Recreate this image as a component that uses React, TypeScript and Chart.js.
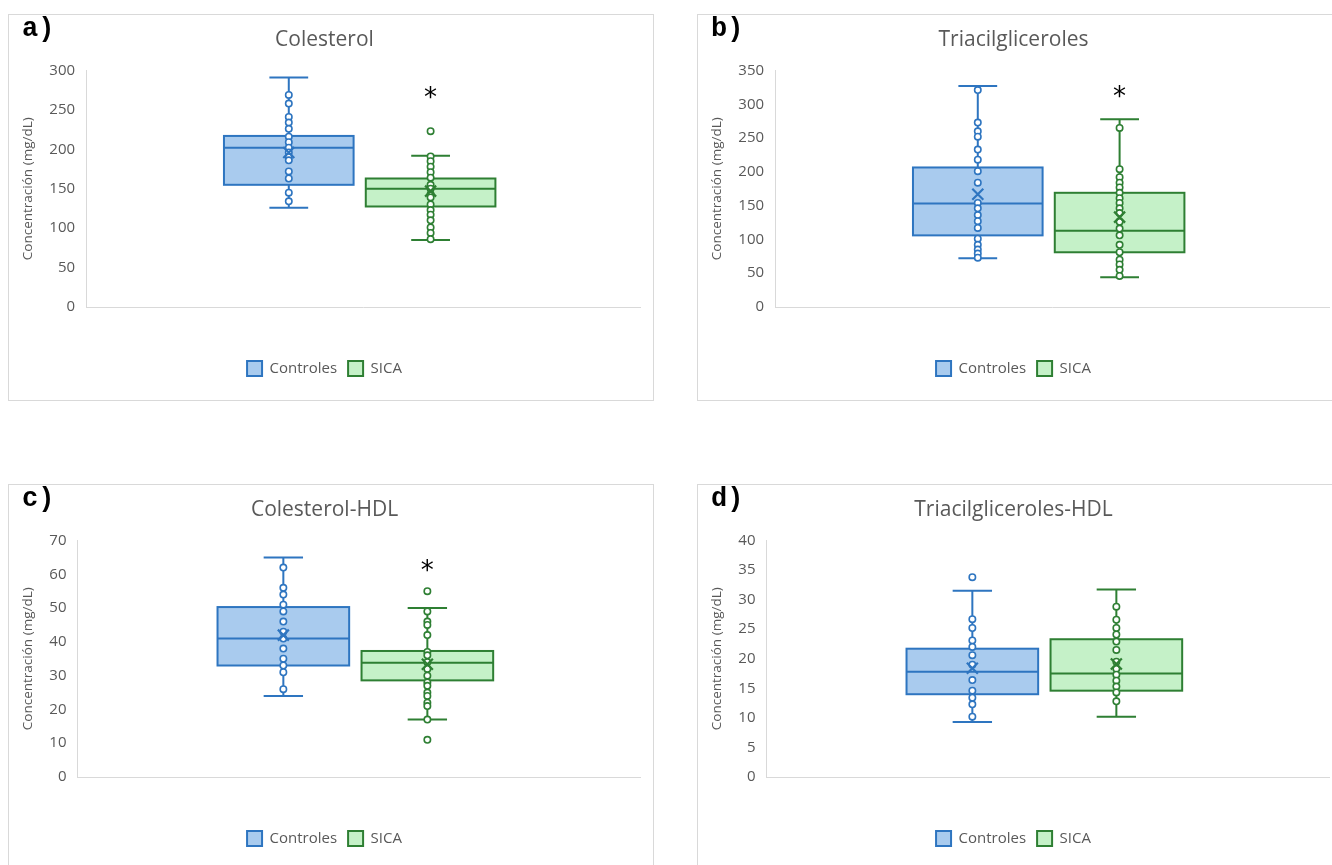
import React, { useEffect, useRef } from "react";
import { Chart, registerables } from "chart.js";

Chart.register(...registerables);

const FONT = '"Open Sans", "Noto Sans", sans-serif';
const TEXT_GRAY = "#595959";
const AXIS_GRAY = "#D9D9D9";

const SERIES_NAMES = ["Controles", "SICA"];
const SERIES_LINE = ["#2E75C0", "#2E7F33"];
const SERIES_FILL = ["#A9CBEE", "#C5F1C8"];

// Box stats arrays: [whiskerLow, Q1, median, Q3, whiskerHigh]
// a) Colesterol
const colCtrlPoints = [269, 258, 241, 234, 226, 216, 209, 202, 196, 190, 186, 172, 163, 145, 134];
const colCtrlBox = [126, 155, 202, 217, 291];
const colCtrlMean = 196;
const colSicaPoints = [223, 191, 185, 178, 171, 164, 155, 150, 143, 139, 130, 123, 117, 110, 101, 94, 86];
const colSicaBox = [85, 127.5, 150, 163, 192];
const colSicaMean = 147;

// b) Triacilgliceroles
const tgCtrlPoints = [321, 273, 260, 252, 233, 218, 201, 184, 154, 146, 136, 127, 117, 101, 92, 85, 79, 73];
const tgCtrlBox = [72, 106, 153, 206.5, 327];
const tgCtrlMean = 167;
const tgSicaPoints = [265, 204, 192, 184, 177, 169, 161, 154, 146, 139, 126, 116, 106, 92, 81, 70, 63, 55, 46];
const tgSicaBox = [44, 81, 113, 169, 278];
const tgSicaMean = 133;

// c) Colesterol-HDL
const hdlCtrlPoints = [62, 56, 54, 51, 49, 46, 43, 41, 38, 35, 33, 31, 26];
const hdlCtrlBox = [24, 33, 41, 50.3, 65];
const hdlCtrlMean = 42;
const hdlSicaPoints = [55, 49, 46, 45, 42, 37, 36, 34, 32, 30, 28, 27, 25, 24, 22, 21, 17, 11];
const hdlSicaBox = [17, 28.6, 33.8, 37.3, 50];
const hdlSicaMean = 33.4;

// d) Triacilgliceroles-HDL
const tghCtrlPoints = [33.8, 26.7, 25.2, 23.1, 22, 20.6, 19, 16.4, 14.6, 13.4, 12.3, 10.2];
const tghCtrlBox = [9.3, 14, 17.8, 21.7, 31.5];
const tghCtrlMean = 18.4;
const tghSicaPoints = [28.8, 26.6, 25.2, 24.1, 22.9, 21.5, 19.5, 18.3, 17.3, 16.3, 15.3, 14.3, 12.8];
const tghSicaBox = [10.2, 14.6, 17.5, 23.3, 31.7];
const tghSicaMean = 19.1;

const panelLetters = ["a)", "b)", "c)", "d)"];
const panelTitles = ["Colesterol", "Triacilgliceroles", "Colesterol-HDL", "Triacilgliceroles-HDL"];
const yMaxes = [300, 350, 70, 40];
const ySteps = [50, 50, 10, 5];
const starValues: (number | null)[] = [272, 318.5, 62.7, null];
const yAxisTitle = "Concentración (mg/dL)";

const panelSeries = [
  [
    { points: colCtrlPoints, box: colCtrlBox, mean: colCtrlMean },
    { points: colSicaPoints, box: colSicaBox, mean: colSicaMean },
  ],
  [
    { points: tgCtrlPoints, box: tgCtrlBox, mean: tgCtrlMean },
    { points: tgSicaPoints, box: tgSicaBox, mean: tgSicaMean },
  ],
  [
    { points: hdlCtrlPoints, box: hdlCtrlBox, mean: hdlCtrlMean },
    { points: hdlSicaPoints, box: hdlSicaBox, mean: hdlSicaMean },
  ],
  [
    { points: tghCtrlPoints, box: tghCtrlBox, mean: tghCtrlMean },
    { points: tghSicaPoints, box: tghSicaBox, mean: tghSicaMean },
  ],
];

// layout (fractions of the plot width)
const GROUP_POS = [0.366, 0.622];
const BOX_HALF = 0.117;
const CAP_HALF = 0.035;

const PANEL_W = 646;
const PANEL_H = 387;
const panelPos = [
  { left: 8, top: 14 },
  { left: 697, top: 14 },
  { left: 8, top: 484 },
  { left: 697, top: 484 },
];

function makeBoxPlugin(idx: number) {
  const series = panelSeries[idx];
  return {
    id: "boxwhisker" + idx,
    beforeDatasetsDraw(chart: any) {
      const { ctx, scales } = chart;
      const x = scales.x;
      const y = scales.y;
      series.forEach((s, i) => {
        const cx = x.getPixelForValue(GROUP_POS[i]);
        const hw = x.getPixelForValue(GROUP_POS[i] + BOX_HALF) - cx;
        const cap = x.getPixelForValue(GROUP_POS[i] + CAP_HALF) - cx;
        const [lo, q1, med, q3, hi] = s.box.map((v) => y.getPixelForValue(v));
        ctx.save();
        ctx.fillStyle = SERIES_FILL[i];
        ctx.fillRect(cx - hw, q3, 2 * hw, q1 - q3);
        ctx.strokeStyle = SERIES_LINE[i];
        ctx.lineWidth = 2;
        ctx.strokeRect(cx - hw, q3, 2 * hw, q1 - q3);
        ctx.beginPath();
        ctx.moveTo(cx - hw, med);
        ctx.lineTo(cx + hw, med);
        ctx.moveTo(cx, q3);
        ctx.lineTo(cx, hi);
        ctx.moveTo(cx - cap, hi);
        ctx.lineTo(cx + cap, hi);
        ctx.moveTo(cx, q1);
        ctx.lineTo(cx, lo);
        ctx.moveTo(cx - cap, lo);
        ctx.lineTo(cx + cap, lo);
        ctx.stroke();
        ctx.restore();
      });
    },
    afterDatasetsDraw(chart: any) {
      const { ctx, scales } = chart;
      const x = scales.x;
      const y = scales.y;
      series.forEach((s, i) => {
        const cx = x.getPixelForValue(GROUP_POS[i]);
        const my = y.getPixelForValue(s.mean);
        const r = 5.5;
        ctx.save();
        ctx.strokeStyle = SERIES_LINE[i];
        ctx.lineWidth = 2.2;
        ctx.beginPath();
        ctx.moveTo(cx - r, my - r);
        ctx.lineTo(cx + r, my + r);
        ctx.moveTo(cx + r, my - r);
        ctx.lineTo(cx - r, my + r);
        ctx.stroke();
        ctx.restore();
      });
      const star = starValues[idx];
      if (star !== null) {
        const cx = x.getPixelForValue(GROUP_POS[1]);
        const sy = y.getPixelForValue(star);
        ctx.save();
        ctx.fillStyle = "#000000";
        ctx.font = '26px "DejaVu Sans", sans-serif';
        ctx.textAlign = "center";
        ctx.textBaseline = "alphabetic";
        const m = ctx.measureText("*");
        const mid = (m.actualBoundingBoxAscent - m.actualBoundingBoxDescent) / 2;
        ctx.fillText("*", cx, sy + mid);
        ctx.restore();
      }
    },
    afterDraw(chart: any) {
      const { ctx } = chart;
      ctx.save();
      ctx.fillStyle = "#000000";
      ctx.font = 'bold 27px "Liberation Mono", monospace';
      ctx.textAlign = "left";
      ctx.textBaseline = "alphabetic";
      ctx.fillText(panelLetters[idx], 13, 21);
      ctx.restore();
    },
  };
}

function Panel({ idx }: { idx: number }) {
  const ref = useRef<HTMLCanvasElement | null>(null);
  useEffect(() => {
    if (!ref.current) return;
    const series = panelSeries[idx];
    const chart = new Chart(ref.current, {
      type: "scatter",
      data: {
        datasets: series.map((s, i) => ({
          label: SERIES_NAMES[i],
          data: s.points.map((v) => ({ x: GROUP_POS[i], y: v })),
          pointRadius: 3.2,
          pointBorderWidth: 1.6,
          pointBackgroundColor: "#FFFFFF",
          pointBorderColor: SERIES_LINE[i],
          showLine: false,
        })),
      },
      options: {
        animation: false,
        responsive: false,
        maintainAspectRatio: false,
        events: [],
        layout: { padding: { top: 0, left: 0, right: 13, bottom: 14 } },
        plugins: {
          title: {
            display: true,
            text: panelTitles[idx],
            color: TEXT_GRAY,
            font: { family: FONT, size: 21, weight: "normal" },
            padding: { top: 12.4, bottom: 17.9 },
          },
          legend: {
            display: true,
            position: "bottom",
            labels: {
              color: TEXT_GRAY,
              font: { family: FONT, size: 15 },
              boxWidth: 15,
              boxHeight: 15,
              padding: 11,
              generateLabels: () =>
                SERIES_NAMES.map((name, i) => ({
                  text: name,
                  fillStyle: SERIES_FILL[i],
                  strokeStyle: SERIES_LINE[i],
                  lineWidth: 2,
                  hidden: false,
                  datasetIndex: i,
                  fontColor: TEXT_GRAY,
                })),
            },
          },
          tooltip: { enabled: false },
        },
        scales: {
          x: {
            type: "linear",
            min: 0,
            max: 1,
            ticks: { display: false },
            grid: { display: false, drawTicks: true, tickLength: 43 },
            border: { display: true, color: AXIS_GRAY, width: 1 },
          },
          y: {
            type: "linear",
            min: 0,
            max: yMaxes[idx],
            ticks: {
              stepSize: ySteps[idx],
              color: TEXT_GRAY,
              font: { family: FONT, size: 15 },
              padding: 11,
            },
            grid: { display: false, drawTicks: false },
            border: { display: true, color: AXIS_GRAY, width: 1 },
            title: {
              display: true,
              text: yAxisTitle,
              color: TEXT_GRAY,
              font: { family: FONT, size: 13.5 },
              padding: { top: 11.4, bottom: 1.7 },
            },
          },
        },
      } as any,
      plugins: [makeBoxPlugin(idx)],
    });
    return () => chart.destroy();
  }, [idx]);

  const pos = panelPos[idx];
  return (
    <div
      style={{
        position: "absolute",
        left: pos.left,
        top: pos.top,
        width: PANEL_W,
        height: PANEL_H,
        border: "1px solid #D9D9D9",
        boxSizing: "border-box",
        background: "#FFFFFF",
      }}
    >
      <canvas
        ref={ref}
        width={PANEL_W - 2}
        height={PANEL_H - 2}
        style={{ position: "absolute", left: 0, top: 0, width: PANEL_W - 2, height: PANEL_H - 2 }}
      />
    </div>
  );
}

export default function App() {
  return (
    <div
      style={{
        position: "fixed",
        left: 0,
        top: 0,
        width: 1332,
        height: 865,
        overflow: "hidden",
        background: "#FFFFFF",
      }}
    >
      {[0, 1, 2, 3].map((i) => (
        <Panel key={i} idx={i} />
      ))}
    </div>
  );
}
